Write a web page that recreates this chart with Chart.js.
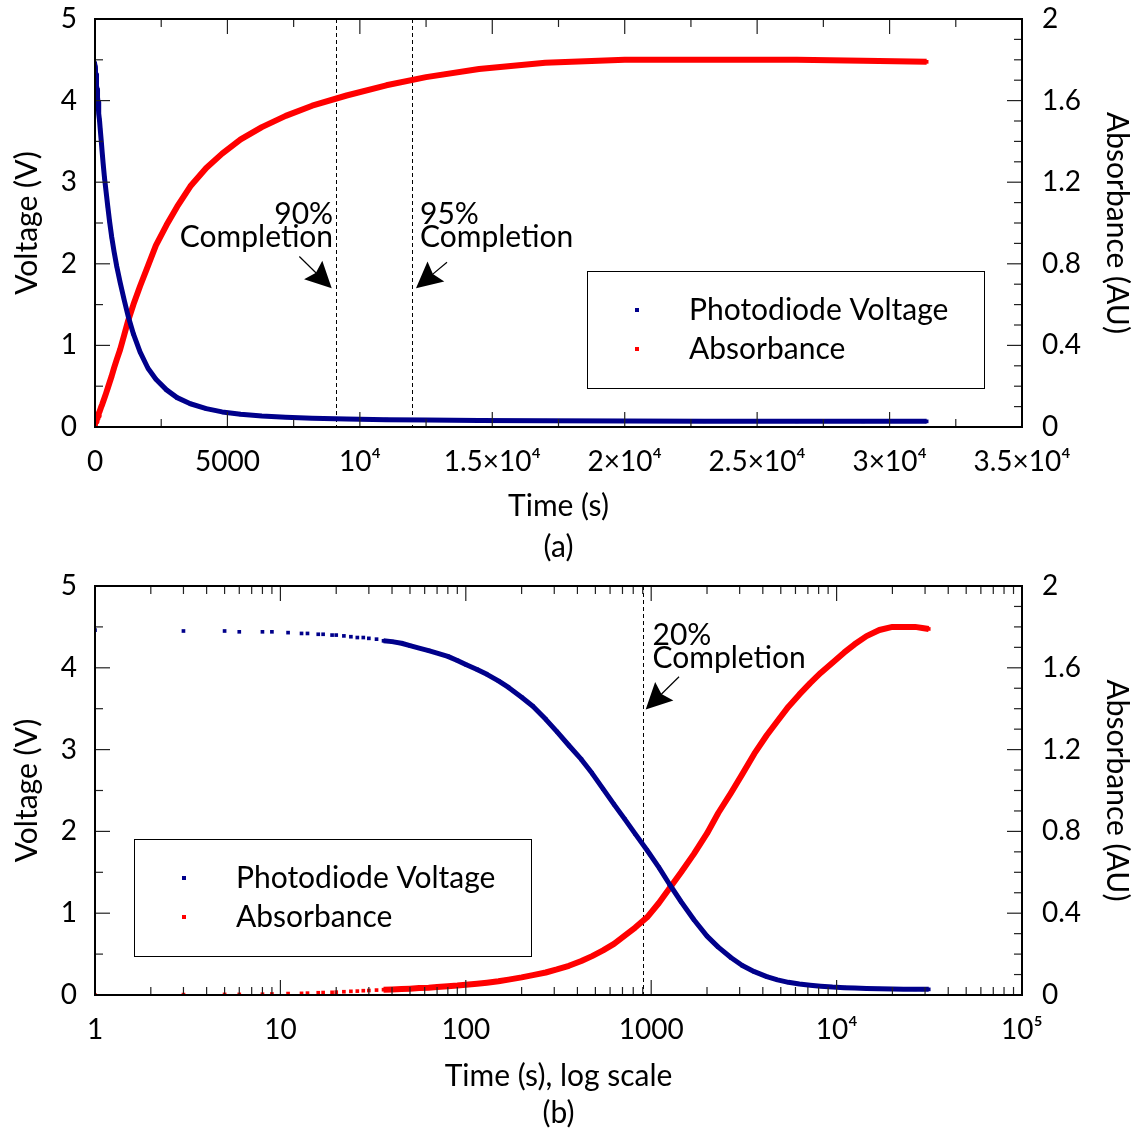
<!DOCTYPE html>
<html>
<head>
<meta charset="utf-8">
<script src="https://cdn.jsdelivr.net/npm/chart.js@4.4.1/dist/chart.umd.min.js"></script>
<style>
  body { margin: 0; background: #fff; overflow: hidden; }
  .wrap { position: absolute; left: 0; width: 1136px; }
  #wrapA { top: 0; height: 568px; }
  #wrapB { top: 568px; height: 560px; }
</style>
</head>
<body>
<div class="wrap" id="wrapA"><canvas id="chartA"></canvas></div>
<div class="wrap" id="wrapB"><canvas id="chartB"></canvas></div>
<script>
// time (s) of each reading
const timeS = [1, 3, 5, 6, 8, 9, 11, 13, 14, 16, 17, 19, 20, 22, 24, 26, 28, 30, 33, 36,
    40, 45, 50, 56, 63, 70, 80, 90, 100, 115, 130, 150, 170, 200, 230, 270, 310, 360,
    420, 480, 550, 630, 720, 820, 950, 1100, 1250, 1450, 1700, 2000, 2300, 2700, 3100,
    3600, 4200, 4800, 5500, 6300, 7200, 8200, 9500, 11000, 12500, 14500, 17000, 20000,
    23000, 26500, 29000, 31400];
// photodiode voltage (V)
const voltage = [4.46, 4.45, 4.45, 4.44, 4.44, 4.44, 4.43, 4.42, 4.42, 4.41, 4.41, 4.40, 4.40, 4.39, 4.38, 4.37, 4.37, 4.36, 4.35, 4.33,
    4.32, 4.30, 4.27, 4.24, 4.21, 4.18, 4.14, 4.09, 4.04, 3.98, 3.92, 3.84, 3.76, 3.64, 3.53, 3.37, 3.22, 3.05,
    2.88, 2.71, 2.52, 2.33, 2.15, 1.97, 1.77, 1.56, 1.36, 1.14, 0.92, 0.72, 0.585, 0.455, 0.36,
    0.285, 0.225, 0.185, 0.155, 0.135, 0.12, 0.108, 0.097, 0.09, 0.085, 0.08, 0.076, 0.073,
    0.071, 0.07, 0.07, 0.069];
// absorbance (AU)
const absorbance = [0, 0.002, 0.003, 0.003, 0.004, 0.005, 0.007, 0.008, 0.009, 0.011, 0.012, 0.013, 0.014, 0.016, 0.018, 0.019, 0.021, 0.022, 0.024, 0.026,
    0.027, 0.029, 0.031, 0.034, 0.036, 0.039, 0.043, 0.046, 0.05, 0.055, 0.06, 0.067, 0.075, 0.086, 0.097, 0.11, 0.125, 0.143,
    0.166, 0.19, 0.218, 0.25, 0.29, 0.33, 0.38, 0.45, 0.52, 0.60, 0.69, 0.79, 0.89, 0.99, 1.08,
    1.18, 1.27, 1.34, 1.41, 1.47, 1.525, 1.575, 1.625, 1.675, 1.715, 1.755, 1.785, 1.80,
    1.80, 1.80, 1.795, 1.79];

const linearTicks = [0, 5000, 10000, 15000, 20000, 25000, 30000, 35000];
const linearTickLabels = ['0', '5000', '10⁴', '1.5×10⁴', '2×10⁴', '2.5×10⁴', '3×10⁴', '3.5×10⁴'];
const logTicks = [1, 10, 100, 1000, 10000, 100000];
const logTickLabels = ['1', '10', '100', '1000', '10⁴', '10⁵'];
const voltTicks = [0, 1, 2, 3, 4, 5];
const absTicks = [0, 0.4, 0.8, 1.2, 1.6, 2];
const absTickLabels = ['0', '0.4', '0.8', '1.2', '1.6', '2'];

const NAVY = '#00008b';
const RED = '#ff0000';
const FONT = 'Lato, "Open Sans", sans-serif';
const FS_TICK = 28;
const FS_TEXT = 30;

function range(a, b, step) {
    const out = [];
    for (let v = a; v <= b + 1e-9; v += step) out.push(+v.toFixed(4));
    return out;
}

function makeDatasets() {
    const pts = (ys) => timeS.map((t, i) => ({ x: t, y: ys[i] }));
    // the earliest readings are sparse, show them as separate dots
    const hideEarly = (ctx) => (timeS[ctx.p1DataIndex] <= 36 ? 'rgba(0,0,0,0)' : undefined);
    return [
        {
            label: 'Photodiode Voltage',
            data: pts(voltage),
            yAxisID: 'yV',
            borderColor: NAVY,
            backgroundColor: NAVY,
            borderWidth: 5,
            pointRadius: 2.6,
            pointBorderWidth: 0,
            pointHoverRadius: 2.6,
            segment: { borderColor: hideEarly },
        },
        {
            label: 'Absorbance',
            data: pts(absorbance),
            yAxisID: 'yA',
            borderColor: RED,
            backgroundColor: RED,
            borderWidth: 6,
            pointRadius: 2.6,
            pointBorderWidth: 0,
            pointHoverRadius: 2.6,
            segment: { borderColor: hideEarly },
        },
    ];
}

// frame, inward ticks, dashed markers, arrows and the boxed legend
const decorPlugin = {
    id: 'decor',
    beforeDatasetsDraw(chart, args, opts) {
        const { ctx, chartArea: a, scales } = chart;
        ctx.save();
        ctx.strokeStyle = '#000';
        ctx.lineWidth = 1;
        ctx.setLineDash([4, 3]);
        opts.markers.forEach((t) => {
            const x = Math.round(scales.x.getPixelForValue(t)) + 0.5;
            ctx.beginPath();
            ctx.moveTo(x, a.top);
            ctx.lineTo(x, a.bottom);
            ctx.stroke();
        });
        ctx.restore();
    },
    afterDraw(chart, args, opts) {
        const { ctx, chartArea: a, scales } = chart;
        const sx = scales.x, sv = scales.yV, sa = scales.yA;
        ctx.save();

        // ticks
        ctx.strokeStyle = '#222';
        ctx.lineWidth = 1.2;
        const tick = (x1, y1, x2, y2) => {
            ctx.beginPath();
            ctx.moveTo(x1, y1);
            ctx.lineTo(x2, y2);
            ctx.stroke();
        };
        const xTicks = (vals, len) => vals.forEach((v) => {
            const x = sx.getPixelForValue(v);
            tick(x, a.bottom, x, a.bottom - len);
            tick(x, a.top, x, a.top + len);
        });
        xTicks(opts.xMajor, 15);
        xTicks(opts.xMinor, 8);
        range(0, 5, 1).forEach((v) => { const y = sv.getPixelForValue(v); tick(a.left, y, a.left + 15, y); });
        range(0.5, 4.5, 1).forEach((v) => { const y = sv.getPixelForValue(v); tick(a.left, y, a.left + 8, y); });
        range(0, 2, 0.1).forEach((v, i) => {
            const y = sa.getPixelForValue(v);
            tick(a.right, y, a.right - (i % 4 === 0 ? 15 : 8), y);
        });

        // frame
        ctx.lineWidth = 2;
        ctx.strokeStyle = '#000';
        ctx.strokeRect(a.left, a.top, a.right - a.left, a.bottom - a.top);

        // labels and arrows
        ctx.fillStyle = '#000';
        ctx.font = FS_TEXT + 'px ' + FONT;
        ctx.textBaseline = 'middle';
        opts.notes.forEach((n) => {
            ctx.textAlign = n.align;
            const x = sx.getPixelForValue(n.t);
            n.lines.forEach((txt, i) => ctx.fillText(txt, x, sv.getPixelForValue(n.v[i])));

            const x0 = sx.getPixelForValue(n.tail[0]), y0 = sv.getPixelForValue(n.tail[1]);
            const x1 = sx.getPixelForValue(n.tip[0]), y1 = sv.getPixelForValue(n.tip[1]);
            const d = Math.hypot(x1 - x0, y1 - y0), ux = (x1 - x0) / d, uy = (y1 - y0) / d;
            const hl = 26, hw = 13;
            ctx.lineWidth = 1.2;
            ctx.beginPath();
            ctx.moveTo(x0, y0);
            ctx.lineTo(x1 - ux * hl * 0.8, y1 - uy * hl * 0.8);
            ctx.stroke();
            ctx.beginPath();
            ctx.moveTo(x1, y1);
            ctx.lineTo(x1 - ux * hl - uy * hw, y1 - uy * hl + ux * hw);
            ctx.lineTo(x1 - ux * hl * 0.85, y1 - uy * hl * 0.85);
            ctx.lineTo(x1 - ux * hl + uy * hw, y1 - uy * hl - ux * hw);
            ctx.closePath();
            ctx.fill();
        });

        // legend box
        const L = opts.legend;
        const bx = a.left + L.dx, by = a.top + L.dy;
        ctx.fillStyle = '#fff';
        ctx.fillRect(bx, by, 397, 117);
        ctx.lineWidth = 1;
        ctx.strokeStyle = '#000';
        ctx.strokeRect(bx + 0.5, by + 0.5, 397, 117);
        ctx.textAlign = 'left';
        chart.data.datasets.forEach((ds, i) => {
            const y = by + 39 + i * 39;
            ctx.fillStyle = ds.borderColor;
            ctx.fillRect(bx + 48, y - 2, 4, 4);
            ctx.fillStyle = '#000';
            ctx.fillText(ds.label, bx + 102, y);
        });
        ctx.restore();
    },
};

function makeChart(id, cfg) {
    const font = { family: FONT, size: FS_TICK };
    const titleFont = { family: FONT, size: FS_TEXT };
    // keep the plot frame where it is, labels may stick out above and below
    const fitY = (w) => (s) => { s.width = w; s.paddingTop = 0; s.paddingBottom = 0; };
    return new Chart(document.getElementById(id), {
        type: 'scatter',
        data: { datasets: makeDatasets() },
        plugins: [decorPlugin],
        options: {
            responsive: true,
            maintainAspectRatio: false,
            animation: false,
            showLine: true,
            layout: { padding: { top: cfg.top, left: 0, right: 0, bottom: 0 } },
            elements: {
                line: { tension: 0, borderJoinStyle: 'round' },
                point: { pointStyle: 'rect' },
            },
            scales: {
                x: {
                    type: cfg.xType,
                    min: cfg.xMin,
                    max: cfg.xMax,
                    afterBuildTicks: (s) => { s.ticks = cfg.xTicks.map((v) => ({ value: v })); },
                    afterFit: (s) => { s.height = cfg.xHeight; },
                    grid: { display: false },
                    border: { display: false },
                    ticks: {
                        font, color: '#000', padding: 10, maxRotation: 0, autoSkip: false,
                        callback: (v) => cfg.xLabels[cfg.xTicks.indexOf(v)],
                    },
                    title: {
                        display: true, text: cfg.xTitle, color: '#000',
                        font: { family: FONT, size: FS_TEXT, lineHeight: cfg.titleLine / FS_TEXT },
                        padding: { top: 0, bottom: cfg.titlePad },
                    },
                },
                yV: {
                    position: 'left',
                    min: 0,
                    max: 5,
                    afterBuildTicks: (s) => { s.ticks = voltTicks.map((v) => ({ value: v })); },
                    afterFit: fitY(95),
                    grid: { display: false },
                    border: { display: false },
                    ticks: { font, color: '#000', padding: 10 },
                    title: { display: true, text: 'Voltage (V)', color: '#000', font: titleFont, padding: { top: 9, bottom: 0 } },
                },
                yA: {
                    position: 'right',
                    min: 0,
                    max: 2,
                    afterBuildTicks: (s) => { s.ticks = absTicks.map((v) => ({ value: v })); },
                    afterFit: fitY(114),
                    grid: { display: false },
                    border: { display: false },
                    ticks: {
                        font, color: '#000', padding: 12,
                        callback: (v) => absTickLabels[absTicks.indexOf(v)],
                    },
                    title: { display: true, text: 'Absorbance (AU)', color: '#000', font: titleFont, padding: { top: 1, bottom: 0 } },
                },
            },
            plugins: {
                legend: { display: false },
                tooltip: { enabled: false },
                decor: cfg.decor,
            },
        },
    });
}

const logMinor = [];
[1, 10, 100, 1000, 10000].forEach((d) => { for (let k = 2; k <= 9; k++) logMinor.push(k * d); });

makeChart('chartA', {
    top: 19,
    xType: 'linear', xMin: 0, xMax: 35000,
    xTicks: linearTicks, xLabels: linearTickLabels,
    xHeight: 141, xTitle: ['Time (s)', '(a)'], titleLine: 41, titlePad: 0,
    decor: {
        markers: [9100, 11950],
        xMajor: linearTicks,
        xMinor: range(2500, 32500, 5000),
        notes: [
            { t: 8990, align: 'right', lines: ['90%', 'Completion'], v: [2.61, 2.32], tail: [7715, 2.09], tip: [8938, 1.70] },
            { t: 12272, align: 'left', lines: ['95%', 'Completion'], v: [2.61, 2.32], tail: [13290, 2.02], tip: [12120, 1.70] },
        ],
        legend: { dx: 492, dy: 252 },
    },
});

makeChart('chartB', {
    top: 18,
    xType: 'logarithmic', xMin: 1, xMax: 100000,
    xTicks: logTicks, xLabels: logTickLabels,
    xHeight: 133, xTitle: ['Time (s), log scale', '(b)'], titleLine: 37, titlePad: -4,
    decor: {
        markers: [906],
        xMajor: logTicks,
        xMinor: logMinor,
        notes: [
            { t: 1016, align: 'left', lines: ['20%', 'Completion'], v: [4.40, 4.11], tail: [1413, 3.89], tip: [934, 3.49] },
        ],
        legend: { dx: 39, dy: 253 },
    },
});
</script>
</body>
</html>
